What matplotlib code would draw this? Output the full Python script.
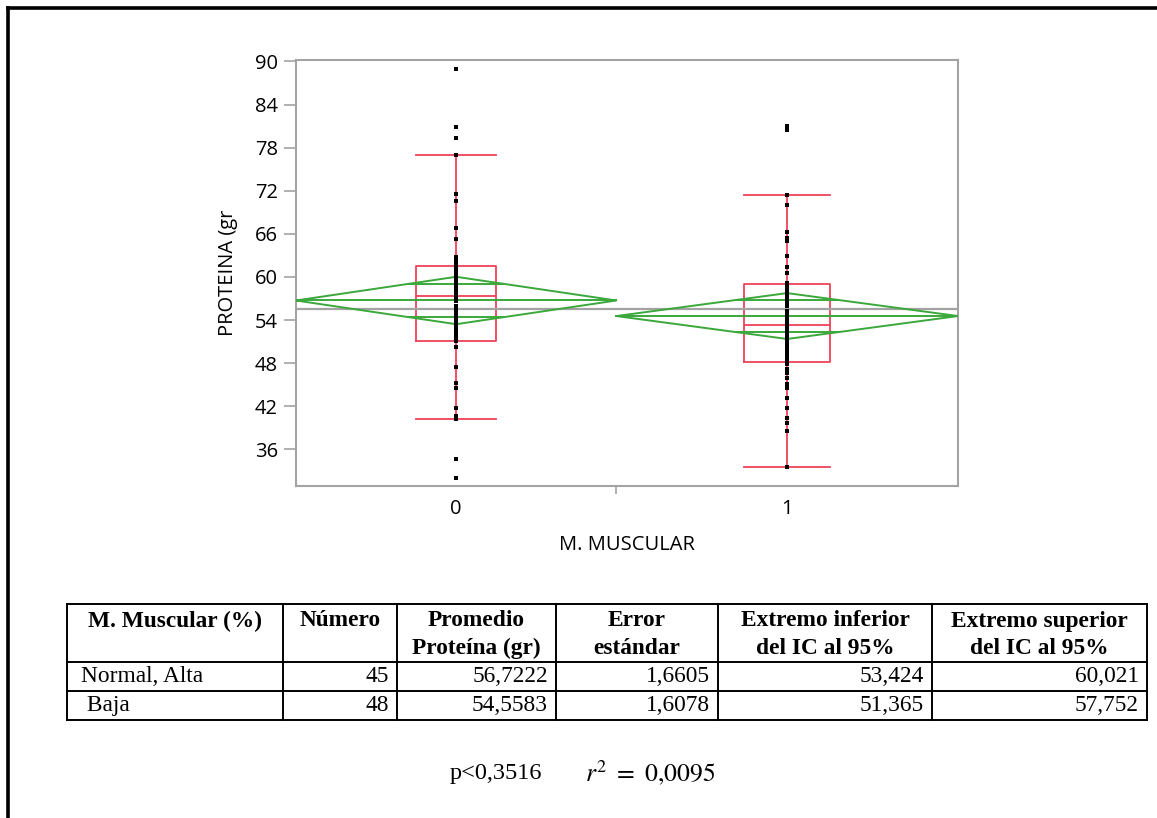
import matplotlib.pyplot as plt
import numpy as np
from matplotlib.lines import Line2D

plt.rcParams['font.family'] = ['Open Sans', 'DejaVu Sans']
plt.rcParams['mathtext.fontset'] = 'stix'

# datos por grupo (M. MUSCULAR)
groups = ['0', '1']
row_names = ['Normal, Alta', ' Baja']
counts = [45, 48]
means = [56.7222, 54.5583]
std_err = [1.6605, 1.6078]
ci_low = [53.424, 51.365]
ci_high = [60.021, 57.752]

# cuantiles
q1 = [51.1, 48.2]
median = [57.4, 53.3]
q3 = [61.5, 59.0]
whis_lo = [40.2, 33.6]
whis_hi = [77.0, 71.4]

proteina_0 = [89.0, 80.9, 79.4, 77.0, 71.5, 70.6, 66.8, 65.3, 62.8, 62.3, 61.8, 61.4,
              61.0, 60.5, 60.0, 59.6, 59.0, 58.6, 58.2, 58.0, 57.8, 57.4, 57.0, 56.6,
              56.0, 55.5, 55.0, 54.5, 54.0, 53.8, 53.5, 53.0, 52.6, 52.0, 51.5, 51.1,
              50.3, 47.4, 45.2, 44.6, 41.8, 40.6, 40.2, 34.7, 32.0]
proteina_1 = [81.0, 80.5, 71.4, 70.0, 66.3, 65.4, 65.0, 62.9, 61.4, 60.5, 59.1,
              58.6, 58.0, 57.7, 57.2, 56.8, 56.3, 55.9, 55.3, 55.0, 54.8, 54.3, 53.9,
              53.3, 53.0, 52.6, 52.1, 51.6, 51.2, 50.8, 50.3, 50.0, 49.8, 49.3, 48.8,
              48.4, 47.9, 47.2, 46.6, 46.0, 45.1, 44.5, 43.1, 41.8, 40.4, 39.7, 38.5, 33.6]
data = [proteina_0, proteina_1]

p_text = 'p<0,3516'
r2_text = r'$r^2\ =\ 0{,}0095$'

red = '#ef4259'
green = '#3aa83a'
gray = '#a3a3a3'

W, H = 1157, 818
fig = plt.figure(figsize=(W / 100, H / 100), dpi=100)
ax = fig.add_axes([296 / W, 1 - 486 / H, 662 / W, 426 / H])

edges = np.concatenate([[0], np.cumsum(counts)])
centers = (edges[:-1] + edges[1:]) / 2
widths = [0.25 * c for c in counts]

# puntos
for xc, vals in zip(centers, data):
    ax.plot([xc] * len(vals), vals, 's', color='black', ms=2.7, mew=0, zorder=4)

# cajas
stats = []
for i in range(len(groups)):
    stats.append(dict(med=median[i], q1=q1[i], q3=q3[i],
                      whislo=whis_lo[i], whishi=whis_hi[i], fliers=[]))
lp = dict(color=red, lw=1.3)
ax.bxp(stats, positions=centers, widths=widths, capwidths=widths,
       showfliers=False, manage_ticks=False,
       boxprops=lp, whiskerprops=lp, capprops=lp, medianprops=lp)

# media global
grand = sum(c * m for c, m in zip(counts, means)) / sum(counts)
ax.axhline(grand, color=gray, lw=1.6, zorder=2)

# diamantes de medias
for i in range(len(groups)):
    xl, xr, xc = edges[i], edges[i + 1], centers[i]
    m, lo, hi = means[i], ci_low[i], ci_high[i]
    ax.plot([xl, xc, xr, xc, xl], [m, hi, m, lo, m], color=green, lw=1.4, zorder=3)
    ax.plot([xl, xr], [m, m], color=green, lw=1.4, zorder=3)
    half = (hi - lo) / 2
    h = half / np.sqrt(2)
    d = (xr - xl) / 2 * (1 - h / half)
    for yy in (m + h, m - h):
        ax.plot([xc - d, xc + d], [yy, yy], color=green, lw=1.4, zorder=3)

ax.set_xlim(0, sum(counts))
ax.set_ylim(30.9, 90.2)
ax.set_yticks(np.arange(36, 91, 6))
ax.set_xticks(centers, groups)
ax.set_xticks([edges[1]], minor=True)
ax.tick_params(axis='y', color=gray, length=9, width=1.2, labelsize=14.5, pad=4)
ax.tick_params(axis='x', which='major', length=0, labelsize=14.5, pad=9)
ax.tick_params(axis='x', which='minor', color=gray, length=6, width=1.2)
for s in ax.spines.values():
    s.set_color(gray)
    s.set_linewidth(1.5)
ax.set_ylabel('PROTEINA (gr', fontsize=14.5, labelpad=12)
ax.set_xlabel('M. MUSCULAR', fontsize=14.5, labelpad=12)

# marco exterior
fig.add_artist(Line2D([8 / W, 8 / W], [0, 1 - 8 / H], transform=fig.transFigure, color='black', lw=2.6))
fig.add_artist(Line2D([8 / W, 1], [1 - 8 / H, 1 - 8 / H], transform=fig.transFigure, color='black', lw=2.6))

# tabla
tx = fig.add_axes([0, 0, 1, 1])
tx.set_xlim(0, W)
tx.set_ylim(H, 0)
tx.set_axis_off()

col_edges = [67, 283, 397, 556, 718, 932, 1147]
row_edges = [604, 662, 691, 720]
for x in col_edges:
    tx.plot([x, x], [row_edges[0], row_edges[-1]], color='black', lw=1.4)
for y in row_edges:
    tx.plot([col_edges[0], col_edges[-1]], [y, y], color='black', lw=1.4)

headers = [['M. Muscular (%)'], ['Número'], ['Promedio', 'Proteína (gr)'],
           ['Error', 'estándar'], ['Extremo inferior', 'del IC al 95%'],
           ['Extremo superior', 'del IC al 95%']]
serif = ['Liberation Serif', 'DejaVu Serif']
fs = 16.8
for j, lines in enumerate(headers):
    xc = (col_edges[j] + col_edges[j + 1]) / 2
    for k, t in enumerate(lines):
        tx.text(xc, 621 + 27 * k, t, ha='center', va='center', fontsize=fs,
                fontweight='bold', family=serif)

for i in range(len(groups)):
    yc = (row_edges[i + 1] + row_edges[i + 2]) / 2
    cells = [str(counts[i]), f'{means[i]:.4f}', f'{std_err[i]:.4f}',
             f'{ci_low[i]:.3f}', f'{ci_high[i]:.3f}']
    tx.text(col_edges[0] + 14, yc, row_names[i], ha='left', va='center',
            fontsize=fs, family=serif)
    for j, c in enumerate(cells):
        tx.text(col_edges[j + 2] - 8, yc, c.replace('.', ','), ha='right', va='center',
                fontsize=fs, family=serif)

tx.text(450, 773, p_text, ha='left', va='center', fontsize=17.5, family=serif)
tx.text(585, 773, r2_text, ha='left', va='center', fontsize=18.5)

fig.savefig('out.png', dpi=100)
